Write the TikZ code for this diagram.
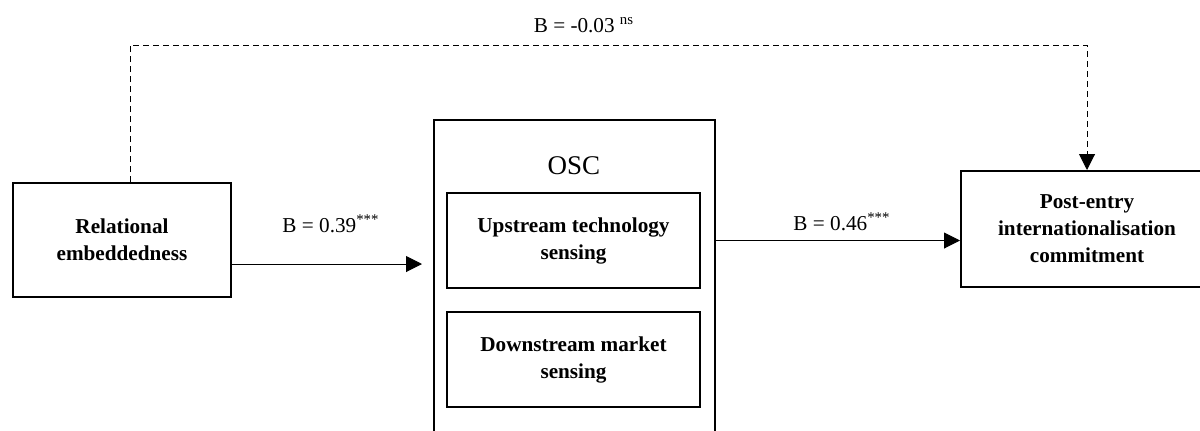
\documentclass[tikz,border=0pt]{standalone}
\usepackage{fontspec}
\setmainfont{Liberation Serif}
\usetikzlibrary{arrows.meta,positioning,calc}

\tikzset{
	varbox/.style={draw,line width=1pt,align=center,font=\fontsize{10.6}{13.5}\selectfont\bfseries,inner sep=0pt},
	conn/.style={line width=0.5pt,-{Triangle[length=8pt,width=8pt]}},
	coef/.style={font=\fontsize{10.6}{12}\selectfont,inner sep=0pt}
}

\begin{document}
\begin{tikzpicture}[x=0.5pt,y=-0.5pt]
			\clip (0,0) rectangle (1200,430);
			\coordinate (relc) at (122,240);
			\coordinate (oscc) at (574.5,285);
			\coordinate (upc) at (573.5,240.5);
			\coordinate (downc) at (573.5,359.5);
			\coordinate (postc) at (1087,229);
			
			\node[varbox,minimum width=109pt,minimum height=57pt] (rel) at (relc) {Relational\\embeddedness};
			\node[draw,line width=1pt,minimum width=140.5pt,minimum height=165pt] (osc) at (oscc) {};
			\node[font=\fontsize{13.5}{16}\selectfont,inner sep=0pt] (osclabel) at (574,166) {OSC};
			\node[varbox,minimum width=126.5pt,minimum height=47.5pt] (up) at (upc) {Upstream technology\\sensing};
			\node[varbox,minimum width=126.5pt,minimum height=47.5pt] (down) at (downc) {Downstream market\\sensing};
			\node[varbox,minimum width=126pt,minimum height=58pt] (post) at (postc) {Post-entry\\internationalisation\\commitment};
			
			\draw[conn] ([yshift=-12pt]rel.east) -- ++(190,0) coordinate (relend);
			\draw[conn] (osc.east |- up) -- (post.west |- up);
			\draw[conn,dash pattern=on 3pt off 2pt] ([xshift=4pt]rel.north) -- ++(0,-137) -| (post.north);
			
			\node[coef] (b1) at (331,224) {B = 0.39\textsuperscript{***}};
			\node[coef] (b2) at (842,222) {B = 0.46\textsuperscript{***}};
			\node[coef] (b0) at (584,25) {B = -0.03 \textsuperscript{ns}};
		\end{tikzpicture}
\end{document}
